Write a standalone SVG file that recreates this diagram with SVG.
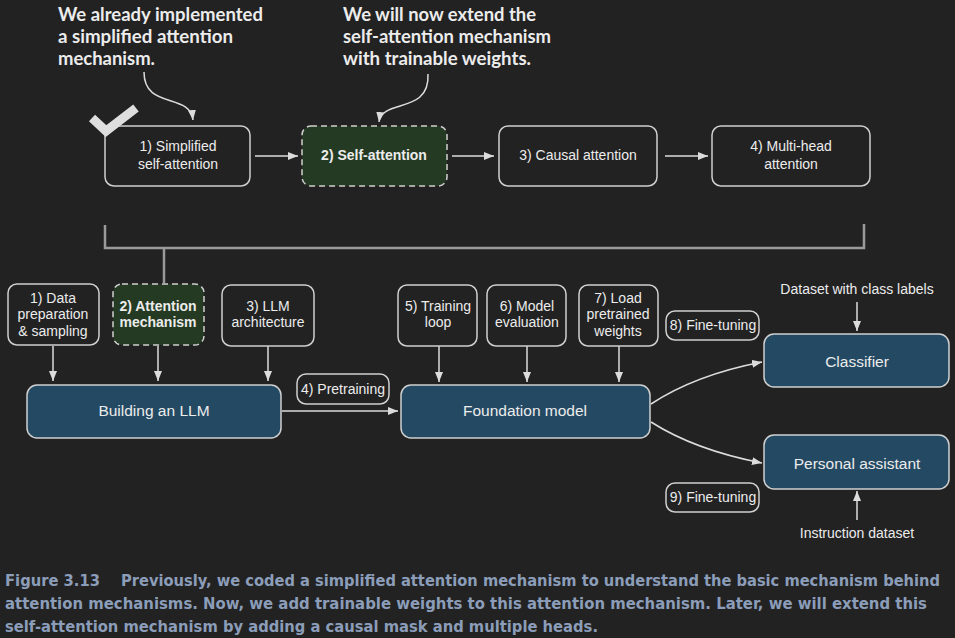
<svg xmlns="http://www.w3.org/2000/svg" width="955" height="638" viewBox="0 0 955 638">
<defs>
<marker id="ah" viewBox="0 0 10 8" refX="10" refY="4" markerWidth="10" markerHeight="8" markerUnits="userSpaceOnUse" orient="auto">
<path d="M0,0 L10,4 L0,8 Z" fill="#dcdcdc"/>
</marker>
<style>
.box{fill:#222222;stroke:#d0d0d0;stroke-width:1.5}
.green{fill:#243a23;stroke:#d0d0d0;stroke-width:1.5;stroke-dasharray:6 4}
.blue{fill:#244a63;stroke:#d0d0d0;stroke-width:1.5}
.t{font-family:"Liberation Sans",Arial,sans-serif;font-size:14px;fill:#ececec;text-anchor:middle}
.tb{font-family:"Liberation Sans",Arial,sans-serif;font-size:14px;font-weight:bold;fill:#ececec;text-anchor:middle}
.tl{font-family:"Liberation Sans",Arial,sans-serif;font-size:15.5px;fill:#ececec;text-anchor:middle}
.ann{font-family:Lato,"Open Sans",sans-serif;font-size:19px;font-weight:bold;fill:#ececec}
.cap{font-family:"DejaVu Sans Condensed","Liberation Sans",sans-serif;font-size:16.5px;font-weight:bold;fill:#8b9db9}
.c{fill:none;stroke:#dcdcdc;stroke-width:1.5}
.br{fill:none;stroke:#9a9a9a;stroke-width:2.5}
</style>
</defs>
<rect width="955" height="638" fill="#222222"/>

<g id="annotations">
<text class="ann" x="58" y="21" textLength="205" lengthAdjust="spacingAndGlyphs">We already implemented</text>
<text class="ann" x="58" y="43" textLength="175" lengthAdjust="spacingAndGlyphs">a simplified attention</text>
<text class="ann" x="58" y="65" textLength="97" lengthAdjust="spacingAndGlyphs">mechanism.</text>
<text class="ann" x="343" y="21" textLength="193" lengthAdjust="spacingAndGlyphs">We will now extend the</text>
<text class="ann" x="343" y="43" textLength="208" lengthAdjust="spacingAndGlyphs">self-attention mechanism</text>
<text class="ann" x="343" y="65" textLength="188" lengthAdjust="spacingAndGlyphs">with trainable weights.</text>
</g>

<g id="connectors">
<path class="c" d="M144,72 C144,110 190,92 193,120" marker-end="url(#ah)"/>
<path class="c" d="M428,74 C430,115 382,98 379,122" marker-end="url(#ah)"/>
<line class="c" x1="255" y1="156" x2="298" y2="156" marker-end="url(#ah)"/>
<line class="c" x1="452" y1="156" x2="494" y2="156" marker-end="url(#ah)"/>
<line class="c" x1="665" y1="156" x2="708" y2="156" marker-end="url(#ah)"/>
<polyline class="br" points="105,225 105,248 864,248 864,224"/>
<line class="br" x1="164" y1="248" x2="164" y2="283"/>
<line class="c" x1="53" y1="346" x2="53" y2="381" marker-end="url(#ah)"/>
<line class="c" x1="158" y1="346" x2="158" y2="381" marker-end="url(#ah)"/>
<line class="c" x1="268" y1="346" x2="268" y2="381" marker-end="url(#ah)"/>
<line class="c" x1="282" y1="411" x2="398" y2="411" marker-end="url(#ah)"/>
<line class="c" x1="439" y1="346" x2="439" y2="382" marker-end="url(#ah)"/>
<line class="c" x1="527" y1="346" x2="527" y2="382" marker-end="url(#ah)"/>
<line class="c" x1="619" y1="346" x2="619" y2="382" marker-end="url(#ah)"/>
<path class="c" d="M651,404 Q695,375 762,362" marker-end="url(#ah)"/>
<path class="c" d="M651,422 Q695,450 762,463" marker-end="url(#ah)"/>
<line class="c" x1="857" y1="302" x2="857" y2="331" marker-end="url(#ah)"/>
<line class="c" x1="857" y1="520" x2="857" y2="491" marker-end="url(#ah)"/>
</g>

<g id="n-simplified"><rect class="box" x="105" y="126" width="145" height="60" rx="9"/>
<text class="t" x="178" y="151">1) Simplified</text><text class="t" x="178" y="169">self-attention</text></g>
<g id="n-selfatt"><rect class="green" x="302" y="126" width="145" height="60" rx="9"/>
<text class="tb" x="374" y="160">2) Self-attention</text></g>
<g id="n-causal"><rect class="box" x="499" y="126" width="158" height="60" rx="9"/>
<text class="t" x="578" y="160">3) Causal attention</text></g>
<g id="n-multi"><rect class="box" x="712" y="126" width="158" height="60" rx="9"/>
<text class="t" x="791" y="151">4) Multi-head</text><text class="t" x="791" y="169">attention</text></g>

<g id="checkmark">
<polyline points="92,118 106,131 136,108" fill="none" stroke="#dedede" stroke-width="9" stroke-linejoin="miter"/>
</g>

<g id="n-data"><rect class="box" x="8" y="284" width="91" height="61" rx="9"/>
<text class="t" x="53" y="303">1) Data</text><text class="t" x="53" y="319">preparation</text><text class="t" x="53" y="336">&amp; sampling</text></g>
<g id="n-attmech"><rect class="green" x="113" y="284" width="91" height="61" rx="9"/>
<text class="tb" x="158" y="311">2) Attention</text><text class="tb" x="158" y="327">mechanism</text></g>
<g id="n-arch"><rect class="box" x="222" y="285" width="92" height="61" rx="9"/>
<text class="t" x="268" y="311">3) LLM</text><text class="t" x="268" y="327">architecture</text></g>
<g id="n-building"><rect class="blue" x="27" y="385" width="254" height="53" rx="10"/>
<text class="tl" x="154" y="416">Building an LLM</text></g>
<g id="n-pretrain"><rect class="box" x="297" y="374" width="92" height="30" rx="9"/>
<text class="t" x="343" y="394">4) Pretraining</text></g>
<g id="n-foundation"><rect class="blue" x="401" y="385" width="249" height="53" rx="10"/>
<text class="tl" x="525" y="416">Foundation model</text></g>
<g id="n-training"><rect class="box" x="398" y="285" width="79" height="61" rx="9"/>
<text class="t" x="438" y="311">5) Training</text><text class="t" x="438" y="327">loop</text></g>
<g id="n-eval"><rect class="box" x="487" y="285" width="79" height="61" rx="9"/>
<text class="t" x="527" y="311">6) Model</text><text class="t" x="527" y="327">evaluation</text></g>
<g id="n-load"><rect class="box" x="579" y="285" width="79" height="61" rx="9"/>
<text class="t" x="618" y="303">7) Load</text><text class="t" x="618" y="319">pretrained</text><text class="t" x="618" y="336">weights</text></g>
<g id="n-ft8"><rect class="box" x="666" y="311" width="93" height="29" rx="9"/>
<text class="t" x="713" y="330">8) Fine-tuning</text></g>
<g id="n-classifier"><rect class="blue" x="764" y="334" width="185" height="53" rx="10"/>
<text class="tl" x="857" y="367">Classifier</text></g>
<g id="n-assistant"><rect class="blue" x="764" y="435" width="185" height="54" rx="10"/>
<text class="tl" x="857" y="469">Personal assistant</text></g>
<g id="n-ft9"><rect class="box" x="666" y="483" width="93" height="29" rx="9"/>
<text class="t" x="713" y="502">9) Fine-tuning</text></g>
<g id="n-dataset"><text class="t" x="857" y="294">Dataset with class labels</text></g>
<g id="n-instr"><text class="t" x="857" y="538">Instruction dataset</text></g>

<g id="caption">
<text class="cap" x="5" y="586" textLength="95" lengthAdjust="spacingAndGlyphs">Figure 3.13</text>
<text class="cap" x="121" y="586" textLength="819" lengthAdjust="spacingAndGlyphs">Previously, we coded a simplified attention mechanism to understand the basic mechanism behind</text>
<text class="cap" x="5" y="609" textLength="922" lengthAdjust="spacingAndGlyphs">attention mechanisms. Now, we add trainable weights to this attention mechanism. Later, we will extend this</text>
<text class="cap" x="5" y="632" textLength="593" lengthAdjust="spacingAndGlyphs">self-attention mechanism by adding a causal mask and multiple heads.</text>
</g>
</svg>
